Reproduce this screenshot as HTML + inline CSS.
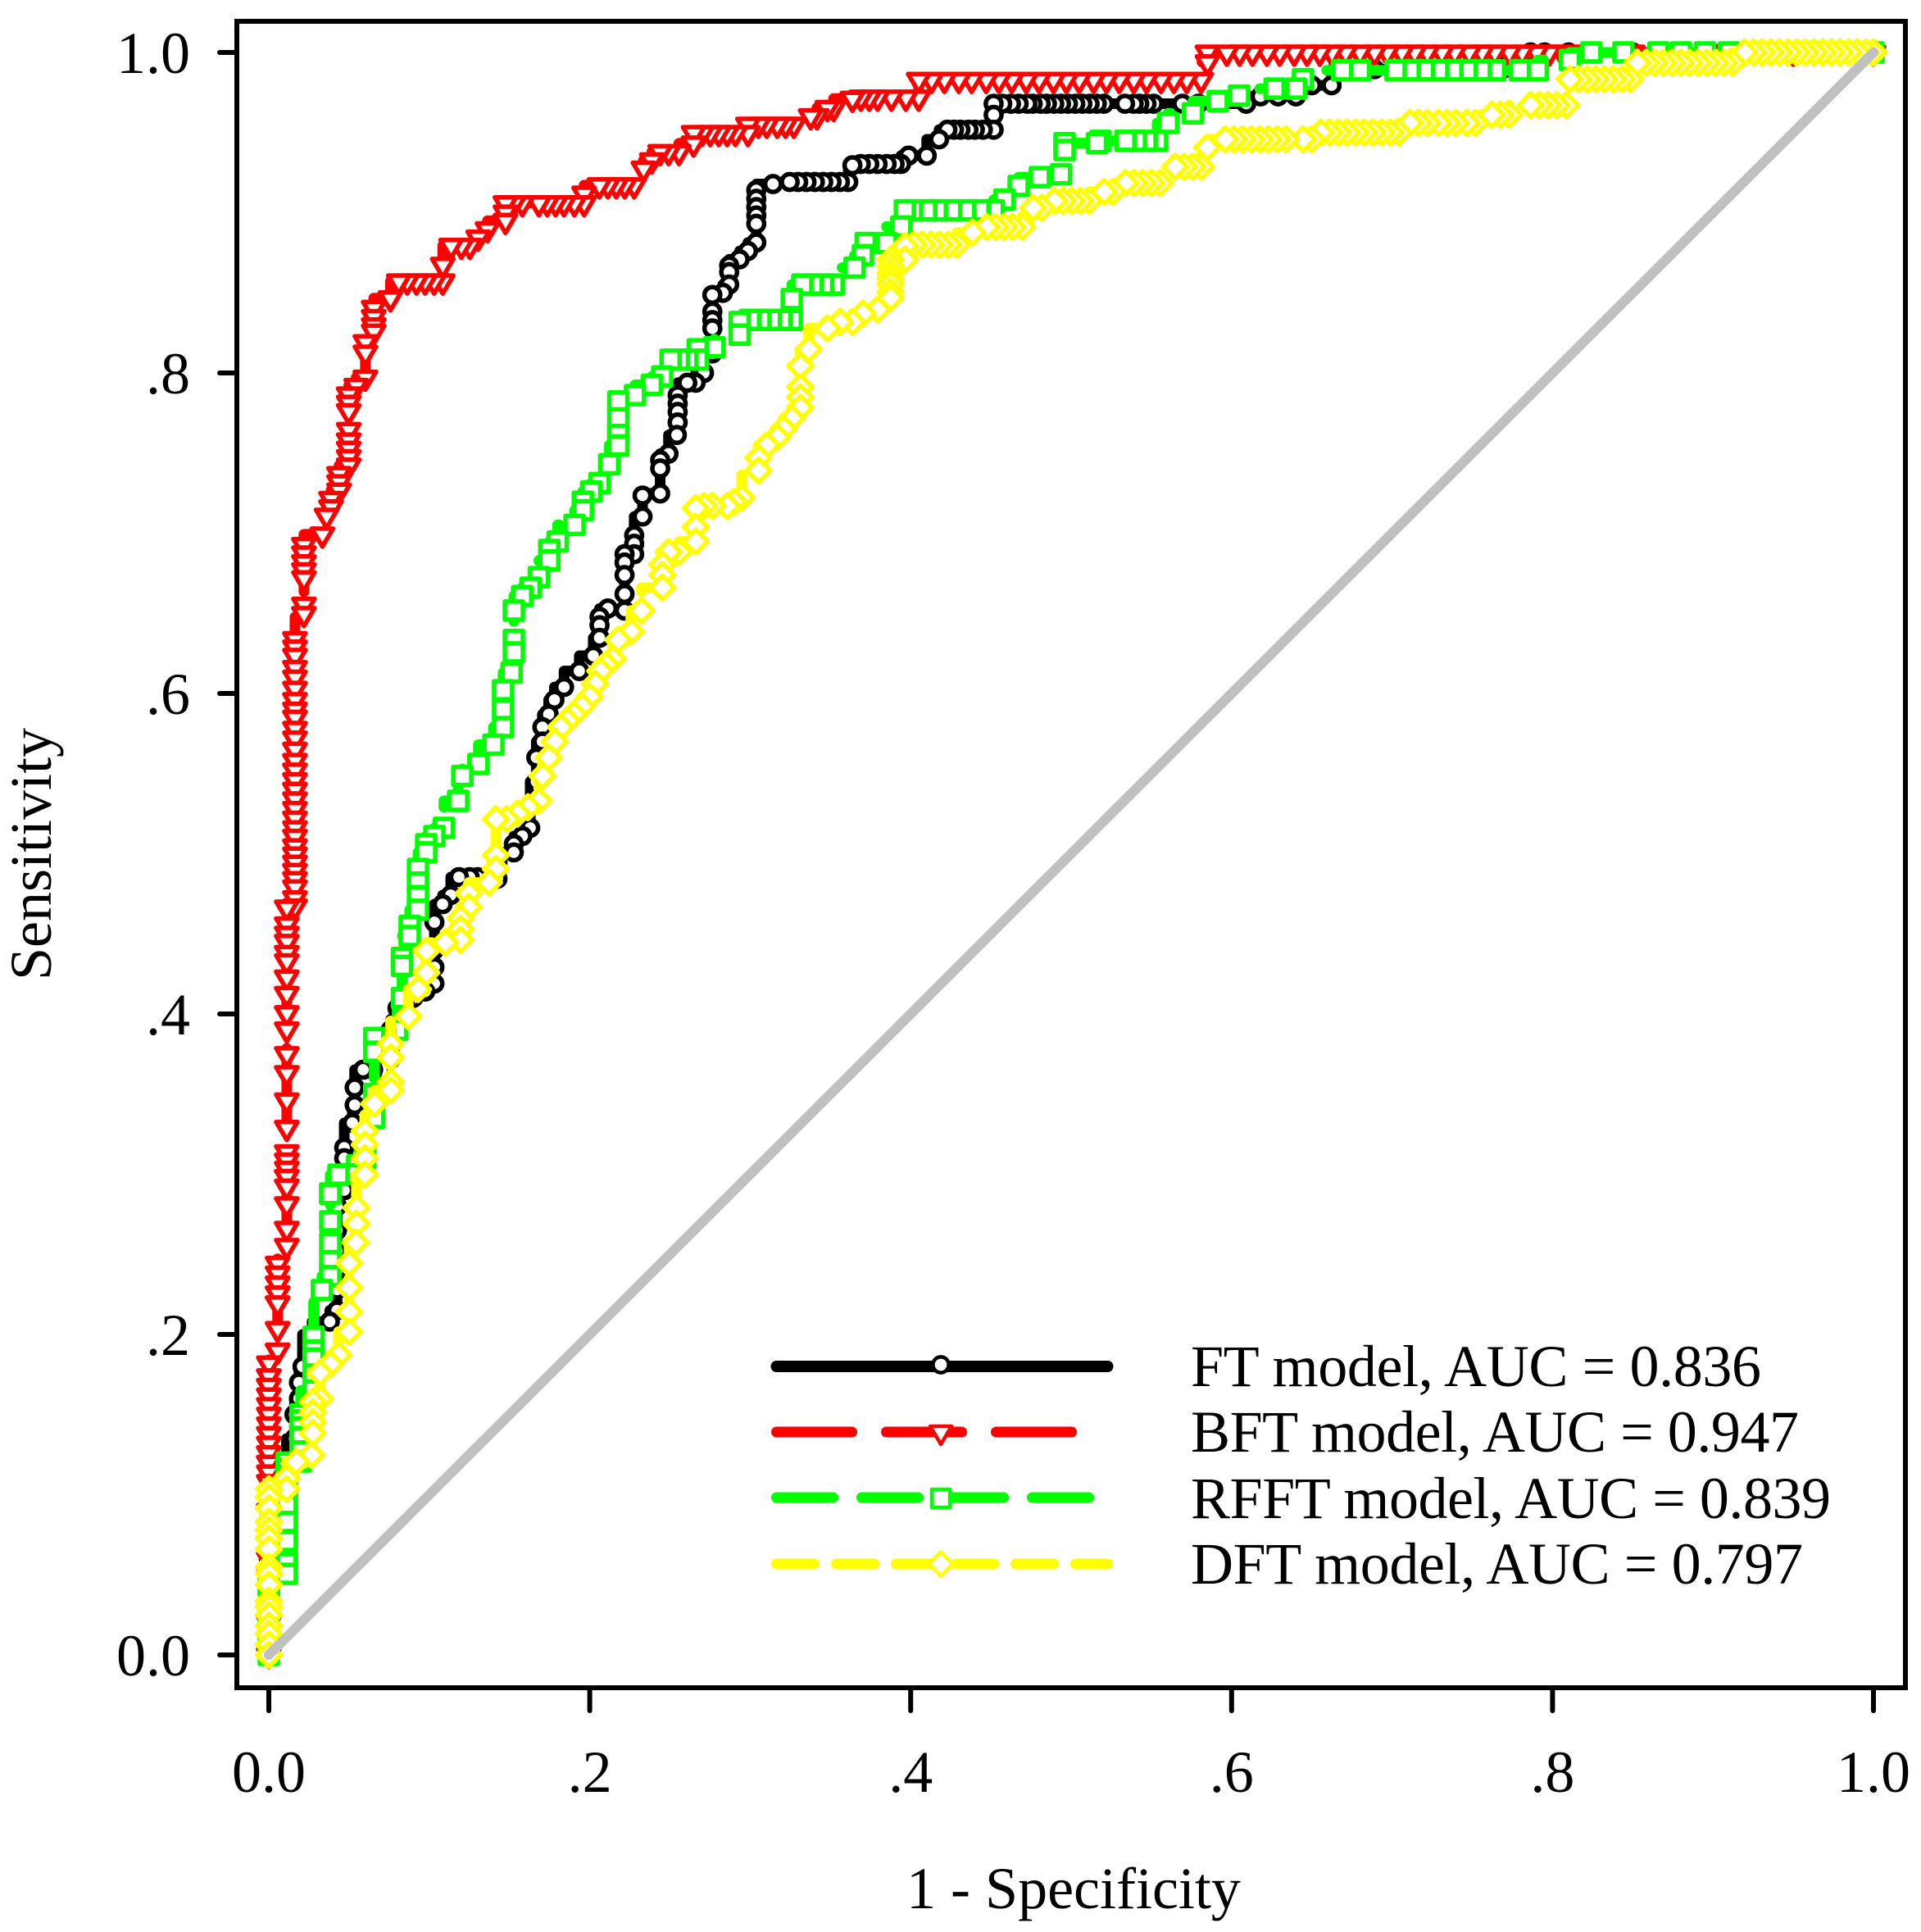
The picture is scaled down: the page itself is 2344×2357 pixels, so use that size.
<!DOCTYPE html>
<html lang="en">
<head>
<meta charset="utf-8">
<title>ROC curves</title>
<style>
html,body{margin:0;padding:0;background:#fff}
svg{display:block}
text{font-family:"Liberation Serif",serif;fill:#000}
</style>
</head>
<body>
<svg id="chart" xmlns="http://www.w3.org/2000/svg" width="2344" height="2357" viewBox="0 0 2344 2357">
  <rect x="0" y="0" width="2344" height="2357" fill="#fff"/>
  <g id="curves"></g>
  <rect x="289" y="26" width="2036" height="2033" fill="none" stroke="#000" stroke-width="6"/>
  <g id="axes"></g>
  <text font-size="72" text-anchor="middle" transform="translate(62,1042) rotate(-90)">Sensitivity</text>
  <text font-size="72" text-anchor="middle" x="1310" y="2328">1 - Specificity</text>
  <g id="legend"></g>
</svg>
<script>
const xTickValues = [0, 0.2, 0.4, 0.6, 0.8, 1];
const xTickLabels = ["0.0", ".2", ".4", ".6", ".8", "1.0"];
const yTickValues = [0, 0.2, 0.4, 0.6, 0.8, 1];
const yTickLabels = ["0.0", ".2", ".4", ".6", ".8", "1.0"];
const seriesNames = ["FT model, AUC = 0.836", "BFT model, AUC = 0.947", "RFFT model, AUC = 0.839", "DFT model, AUC = 0.797"];

const ftFpr = [
0,0,0,0,0,0,0,0,0,0,
.0055,.011,.016,.016,.0188,.0188,.021,.027,.038,.0425,
.0425,.0425,.0425,.0425,.0425,.047,.047,.047,.047,.0521,
.0535,.0535,.0588,.065,.07,.076,.076,.076,.0802,.0802,
.085,.09,.0975,.1032,.1032,.1032,.1032,.1083,.1134,.1185,
.1252,.13,.136,.1425,.1425,.1527,.1527,.158,.1629,.1629,
.1667,.1667,.1705,.1705,.1744,.178,.184,.1935,.2022,.2061,
.2061,.2061,.2113,.2217,.2217,.2217,.2217,.2217,.2277,.2277,
.2277,.2329,.2329,.2439,.2439,.2439,.2491,.2543,.2548,.2548,
.2548,.2548,.2608,.266,.2712,.2764,.2764,.2764,.2764,.2764,
.2764,.283,.2869,.2869,.2869,.2934,.2986,.3038,.3038,.3038,
.3038,.3038,.3038,.3142,.3246,.3299,.3351,.3403,.3455,.3507,
.3559,.3611,.3637,.3689,.3742,.3794,.385,.39,.394,.3987,
.41,.4177,.4229,.427,.431,.436,.44,.445,.4517,.4517,
.4517,.4571,.4625,.4673,.4727,.476,.481,.4849,.4895,.4937,
.498,.5026,.507,.5115,.516,.5204,.5336,.539,.5425,.547,
.5514,.5693,.5793,.6091,.618,.629,.6401,.645,.65,.6623,.669,.689,
.72,.76,.7688,.7863,.795,.81,.85,.88,.906,1];
const ftTpr = [
0,.012,.024,.036,.048,.06,.072,.084,.096,.104,
.108,.112,.135,.15,.16,.17,.18,.2,.208,.215,
.228,.24,.252,.265,.28,.29,.3,.31,.3166,.332,
.3432,.3541,.3652,.3652,.3652,.372,.38,.39,.3966,.4036,
.405,.41,.414,.419,.4292,.44,.4573,.4685,.4742,.4854,
.4854,.4854,.4854,.4844,.4944,.5008,.506,.511,.5161,.53,
.545,.56,.57,.579,.587,.596,.604,.614,.6235,.6347,
.6426,.6478,.653,.6517,.6621,.6739,.6817,.6869,.6869,.6934,
.6987,.7104,.7235,.7248,.7404,.7456,.7496,.7613,.7691,.7757,
.7809,.7861,.7939,.7939,.8,.8122,.8174,.8278,.833,.8383,
.8487,.85,.8552,.863,.867,.8709,.8761,.8814,.8931,.8983,
.9035,.9087,.914,.9179,.9192,.9192,.9192,.9192,.9192,.9192,
.9192,.9192,.9296,.9304,.9304,.9304,.9304,.9304,.9304,.9356,
.9356,.9458,.9518,.9518,.9518,.9518,.9518,.9518,.9518,.9611,
.968,.968,.968,.968,.968,.968,.968,.968,.968,.968,
.968,.968,.968,.968,.968,.968,.968,.968,.968,.968,
.968,.968,.968,.968,.9726,.9726,.9726,.9795,.9795,.9795,.9896,.9896,
.9896,.9896,.9896,1,1,1,1,1,1,1];

const bftFpr = [
0,0,0,0,0,0,0,0,0,0,0,0,
0,0,0,0,0,0,0,0,0,0,0,0,
.0055,.0055,.0055,.0055,.0055,.0055,.0055,
.0112,.0112,.0112,.0112,.0112,.0112,.0112,.0112,.0112,.0112,.0112,
.0112,.0112,.0112,.0112,.0112,.0112,.0112,.0112,.0112,.0112,.0112,
.0163,.0163,.0163,.0163,.0163,.0163,.0163,.0163,.0163,.0163,
.0163,.0163,.0163,.0163,.0163,.0163,.0163,.0163,.0163,.0163,
.0163,.0163,.0163,.0163,.0163,.0163,.0163,.0163,.0163,
.0219,.0219,.0219,.0219,.0219,.0219,.0219,
.0334,.036,.0388,.0388,.0438,.0438,.0438,
.0498,.0498,.0498,.0498,.0498,.0498,.0498,.0498,
.0545,.0602,.0602,.0602,.0654,.0654,.0654,.0654,
.0758,.081,.0862,.092,.0974,.103,.1084,.1084,
.1136,.12,.1253,.1305,.1363,.1475,.1475,.1475,
.1527,.158,.1683,.1735,.1787,.1839,.1904,.1965,
.1965,.206,.2113,.2165,.2218,.2277,.2335,.2387,
.2439,.2491,.2556,.2647,.2647,.27,.2751,.2804,
.2856,.2908,.2986,.2986,.3051,.3103,.3168,.322,
.3272,.3377,.3416,.3481,.352,.3637,.369,.3742,
.3794,.388,.397,.405,.405,.413,.421,.43,
.438,.447,.455,.463,.472,.48,.489,.497,
.505,.514,.522,.53,.539,.547,.556,.564,
.572,.581,.585,.585,.597,.605,.613,.622,
.63,.639,.647,.655,.6625,.671,.68,.689,
.697,.706,.714,.722,.731,.739,.748,.756,
.764,.773,.781,.79,.798,.806,.815,.85,
.9,.95,1];
const bftTpr = [
0,.01,.02,.03,.04,.05,.06,.07,.08,.09,.1,.108,
.114,.12,.126,.132,.138,.144,.15,.156,.162,.168,.174,.182,
.19,.2035,.2195,.2257,.2319,.2381,.2442,
.2553,.266,.2813,.2924,.2984,.3035,.3086,.3138,.329,.3461,.3632,
.375,.3904,.4006,.4126,.4228,.433,.4382,.4451,.4501,.456,.4665,
.4672,.4723,.4791,.4843,.4894,.4945,.4996,.5047,.5107,.516,
.522,.528,.534,.54,.546,.552,.558,.565,.572,.578,
.585,.59,.596,.603,.61,.616,.6236,.6288,.634,
.6497,.6555,.672,.677,.682,.6875,.6928,
.6993,.711,.7163,.7215,.7267,.7319,.737,
.7423,.7476,.7528,.758,.7645,.7763,.7815,.7867,
.792,.7972,.8128,.8193,.8259,.8298,.835,.8407,
.8467,.8572,.8572,.8572,.8572,.8572,.8572,.8676,
.8794,.8794,.8794,.8846,.8898,.895,.9002,.906,
.906,.906,.906,.906,.906,.906,.906,.906,
.912,.9172,.9172,.9172,.9172,.9172,.9276,.9328,
.938,.938,.938,.9433,.9498,.9498,.9498,.9498,
.9498,.9498,.9498,.955,.955,.955,.955,.955,
.955,.9603,.9603,.9655,.9655,.9712,.9719,.9719,
.9719,.9719,.9719,.9719,.983,.983,.983,.983,
.983,.983,.983,.983,.983,.983,.983,.983,
.983,.983,.983,.983,.983,.983,.983,.983,
.983,.983,.994,1,1,1,1,1,
1,1,1,1,1,1,1,1,
1,1,1,1,1,1,1,1,
1,1,1,1,1,1,1,1,
1,1,1];

const rfftFpr = [
0,0,0,0,0,0,0,0,
.0112,.0112,.0112,.0112,.0112,.0112,.0112,.0112,.0112,.0112,
.0198,.0198,.0198,.0198,.0198,.0198,
.0279,.0279,.0279,.0279,.0279,
.0331,.0383,.0383,.0383,.0383,.0383,.0383,
.0434,.05,.0551,.06,.0657,.0657,.0657,.0657,
.0725,.08,.083,.083,.083,.0878,.0878,.093,.093,.093,
.093,.0981,.0981,.1032,.1091,
.118,.1206,.1306,.14,.146,.146,.146,.1513,
.1527,.1527,.1527,.1579,.1631,.1683,.1748,.1748,
.18,.1905,.1957,.1957,.2009,.2061,.2121,.2178,
.2178,.2178,.2178,.2282,.2387,.2452,.2504,.2556,
.2608,.2673,.2673,.2777,.2934,.2934,.2999,.3064,
.3129,.3194,.3259,.3259,.3325,.339,.3455,.352,
.365,.3702,.372,.385,.3942,.3964,.4009,.4097,
.4163,.4252,.434,.4429,.4518,.4584,.4673,.4805,
.4937,.4959,.4959,.5161,.5183,.5338,.5404,.547,
.5536,.5604,.5759,.5914,.6047,.6268,.6401,.6445,
.6689,.68,.7022,.711,.7199,.7288,.7376,.7465,
.7553,.7642,.7797,.7908,.8108,.8242,.8442,.866,
.88,.895,.91,.93,.96,.98,1];
const rfftTpr = [
0,.006,.012,.018,.024,.03,.036,.044,
.0506,.0573,.0711,.0829,.0931,.1,.106,.112,.116,.12,
.1207,.127,.136,.142,.1463,.15,
.165,.175,.185,.19,.1985,
.2277,.2364,.2457,.257,.2706,.2876,.288,
.2997,.3,.3055,.31,.335,.35,.3764,.385,
.385,.39,.41,.43,.435,.4486,.455,.465,.4735,.482,
.4905,.5008,.5059,.511,.5161,
.533,.5485,.556,.568,.579,.59,.602,.613,
.6256,.6334,.6517,.6608,.666,.6726,.683,.6895,
.6948,.7052,.7143,.7196,.7261,.7313,.743,.7548,
.7613,.7717,.7822,.7861,.7926,.7978,.8083,.8083,
.8083,.8083,.8148,.8161,.8239,.8318,.8331,.8331,
.8331,.8331,.8331,.8461,.8552,.8552,.8552,.8552,
.8657,.8735,.8811,.8811,.8914,.9015,.9015,.9015,
.9015,.9015,.9015,.9015,.9015,.9082,.9167,.9222,
.924,.9391,.9434,.9434,.9448,.9448,.9448,.9448,
.9448,.956,.962,.9697,.9731,.9774,.9774,.9833,
.9888,.9888,.9888,.9888,.9888,.9888,.9888,.9888,
.9888,.9888,.9888,.9888,.9953,1,1,1,
1,1,1,1,1,1,1];

const dftFpr = [
0,0,0,0,0,0,0,0,0,0,
0,0,0,0,0,0,0,
.011,.011,.0171,.0265,.0273,.0273,.0273,.0273,
.0318,.0318,.0383,.0434,.05,.05,.05,.05,
.0541,.0546,.0546,.0598,.0598,.0598,.0598,.0657,
.0759,.0759,.0759,.0759,.0869,.093,.0981,.0981,
.1098,.1194,.1194,.1194,.1245,.1245,.1372,.1415,.1415,.1415,
.1482,.155,.1615,.1682,.1705,.1744,.1782,.182,.186,.19,.195,.2,.2033,.2066,.21,.2143,
.2178,.2256,.2322,.2452,.2452,.2452,.2491,.2556,
.266,.266,.266,.2712,.2764,.2856,.29,.2947,
.3051,.3051,.3103,.3168,.3207,.3259,.3312,.3312,
.3312,.3312,.3364,.3481,.3559,.3637,.3702,.3794,
.3875,.3875,.3875,.3875,.3875,.3875,.3875,.3964,.3964,.4018,
.4072,.4126,.418,.4234,.4288,.4385,.4473,.4527,.4581,.4635,
.4695,.4762,.4816,.4895,.4949,.5003,.5057,.5111,.5205,.5259,
.5338,.5392,.5446,.55,.5554,.5648,.5702,.5756,.581,.5848,
.596,.6014,.6068,.6122,.6176,.623,.6284,.6338,.6445,.6499,
.6556,.661,.6664,.6718,.6772,.6826,.688,.6934,.6988,.7042,
.7111,.7165,.7219,.7288,.7342,.7396,.7465,.7519,.7621,.7675,
.7729,.7863,.7917,.7971,.8025,.8085,.8107,.8161,.8215,.8269,
.8323,.8377,.8431,.8485,.8528,.8582,.8636,.869,.8744,.8798,
.8852,.8906,.896,.9014,.9068,.9122,.9197,.9251,.9305,.9359,
.9413,.9467,.9521,.9575,.9629,.9683,.9737,.9791,.9845,.9899,.9953,1];
const dftTpr = [
0,.0065,.0131,.0182,.025,.0301,.0336,.0438,.0506,.0549,
.066,.0727,.0779,.083,.0916,.0984,.1035,
.1035,.1103,.1205,.1248,.1384,.1452,.1512,.158,
.1599,.176,.1815,.1872,.2017,.2141,.2292,.2445,
.2573,.269,.279,.2997,.3099,.3184,.3269,.3439,
.3524,.3575,.3728,.3813,.3985,.4155,.4257,.4393,
.4445,.4462,.453,.4598,.4667,.4752,.482,.4905,.499,.5215,
.5215,.525,.529,.533,.5485,.56,.57,.579,.583,.587,.592,.598,.606,.614,.618,.6215,
.6334,.6386,.6517,.666,.6739,.6804,.6882,.6882,
.6948,.7039,.7156,.7169,.7169,.7169,.7195,.7221,
.7391,.747,.7548,.76,.7652,.7717,.7783,.7848,
.7913,.8044,.8148,.8278,.8318,.8318,.837,.8396,
.8469,.8505,.8554,.8588,.8622,.8665,.8707,.8707,.8792,.88,
.88,.88,.88,.88,.88,.8876,.8911,.8911,.8911,.8911,
.8911,.903,.903,.9073,.9073,.9073,.9073,.9073,.913,.913,
.9185,.9185,.9185,.9185,.9185,.9287,.9287,.9287,.9287,.9407,
.9458,.9458,.9458,.9458,.9458,.9458,.9458,.9458,.9458,.9458,
.95,.95,.95,.95,.95,.95,.95,.95,.95,.95,
.956,.956,.956,.956,.956,.956,.956,.956,.9611,.9611,
.9611,.9671,.9671,.9671,.9671,.9671,.9833,.9833,.9833,.9833,
.9833,.9833,.9833,.9833,.9935,.9935,.9935,.9935,.9935,.9935,
.9935,.9935,.9935,.9935,.9935,.9935,1,1,1,1,
1,1,1,1,1,1,1,1,1,1,1,1];

const diagonalFpr = [0, 1];
const diagonalTpr = [0, 1];

const SVG_NS = "http://www.w3.org/2000/svg";
function xScale(v) { return 328 + 1958 * v; }
function yScale(v) { return 2019 - 1955 * v; }

function svgEl(tag, attrs, parent) {
  const el = document.createElementNS(SVG_NS, tag);
  for (const k in attrs) el.setAttribute(k, attrs[k]);
  parent.appendChild(el);
  return el;
}

function markerShape(kind, cx, cy, color, parent, weight) {
  const common = { fill: "#fff", stroke: color, "stroke-width": weight, "stroke-linejoin": "round" };
  let el;
  if (kind === "circle") {
    el = svgEl("circle", Object.assign({ cx: cx, cy: cy, r: 9.6 }, common), parent);
  } else if (kind === "triangle") {
    el = svgEl("path", Object.assign({ d: "M" + (cx - 13) + " " + (cy - 7) + "H" + (cx + 13) + "L" + cx + " " + (cy + 15) + "Z" }, common), parent);
  } else if (kind === "square") {
    el = svgEl("rect", Object.assign({ x: cx - 11, y: cy - 11, width: 22, height: 22 }, common), parent);
  } else {
    el = svgEl("path", Object.assign({ d: "M" + cx + " " + (cy - 14.5) + "L" + (cx + 14.5) + " " + cy + "L" + cx + " " + (cy + 14.5) + "L" + (cx - 14.5) + " " + cy + "Z" }, common), parent);
  }
  return el;
}

function drawSeries(key, xs, ys, color, dash, kind) {
  const curves = document.getElementById("curves");
  const group = svgEl("g", {}, curves);
  
  
  const n = Math.min(xs.length, ys.length);
  let d = "M" + xScale(xs[0]) + " " + yScale(ys[0]);
  for (let i = 1; i < n; i++) {
    d += "V" + yScale(ys[i]) + "H" + xScale(xs[i]);
  }
  const line = svgEl("path", { d: d, fill: "none", stroke: color, "stroke-width": 13, "stroke-linecap": "round", "stroke-linejoin": "round", "stroke-dasharray": dash }, group);
  
  
  for (let i = n - 1; i >= 0; i--) {
    const m = markerShape(kind, xScale(xs[i]), yScale(ys[i]), color, group, 5.5);
    
    
  }
}

drawSeries("ft", ftFpr, ftTpr, "#000000", "none", "circle");
drawSeries("bft", bftFpr, bftTpr, "#ff0000", "92 42", "triangle");
drawSeries("rfft", rfftFpr, rfftTpr, "#00ff00", "69 35", "square");
drawSeries("dft", dftFpr, dftTpr, "#ffff00", "46 27", "diamond");

const diagonal = svgEl("line", { x1: xScale(diagonalFpr[0]), y1: yScale(diagonalTpr[0]), x2: xScale(diagonalFpr[1]), y2: yScale(diagonalTpr[1]), stroke: "#c0c0c0", "stroke-width": 12, "stroke-linecap": "round" }, document.getElementById("curves"));



const axes = document.getElementById("axes");
xTickValues.forEach(function (v, i) {
  const tick = svgEl("line", { x1: xScale(v), y1: 2059, x2: xScale(v), y2: 2087, stroke: "#000", "stroke-width": 6, "stroke-linecap": "round" }, axes);
  
  
  const label = svgEl("text", { x: xScale(v), y: 2186, "font-size": 72, "text-anchor": "middle" }, axes);
  
  
  label.textContent = xTickLabels[i];
});
yTickValues.forEach(function (v, i) {
  const tick = svgEl("line", { x1: 268, y1: yScale(v), x2: 289, y2: yScale(v), stroke: "#000", "stroke-width": 6, "stroke-linecap": "round" }, axes);
  
  
  const label = svgEl("text", { x: 232, y: yScale(v) + 25, "font-size": 72, "text-anchor": "end" }, axes);
  
  
  label.textContent = yTickLabels[i];
});

const legendColors = ["#000000", "#ff0000", "#00ff00", "#ffff00"];
const legendKinds = ["circle", "triangle", "square", "diamond"];
const legendDashes = ["none", "92 42", "69 35", "46 27"];
const legendLineEnds = [1351.5, 1308.5, 1328.5, 1351.5];
const legendLineYs = [1667, 1747, 1827, 1908];
const legendMarkerYs = [1665, 1747, 1828, 1908];
const legendBaselines = [1691, 1771, 1852, 1932];
const legendWidths = [696, 742, 781, 747];
const legend = document.getElementById("legend");
seriesNames.forEach(function (name, i) {
  const swatch = svgEl("line", { x1: 947.5, y1: legendLineYs[i], x2: legendLineEnds[i], y2: legendLineYs[i], stroke: legendColors[i], "stroke-width": i === 0 ? 14 : 13, "stroke-linecap": "round", "stroke-dasharray": legendDashes[i] }, legend);
  
  
  const mark = markerShape(legendKinds[i], 1148, legendMarkerYs[i], legendColors[i], legend, 4.5);
  
  
  const label = svgEl("text", { x: 1453, y: legendBaselines[i], "font-size": 72, textLength: legendWidths[i], lengthAdjust: "spacing" }, legend);
  
  
  label.textContent = name;
});
</script>
</body>
</html>
